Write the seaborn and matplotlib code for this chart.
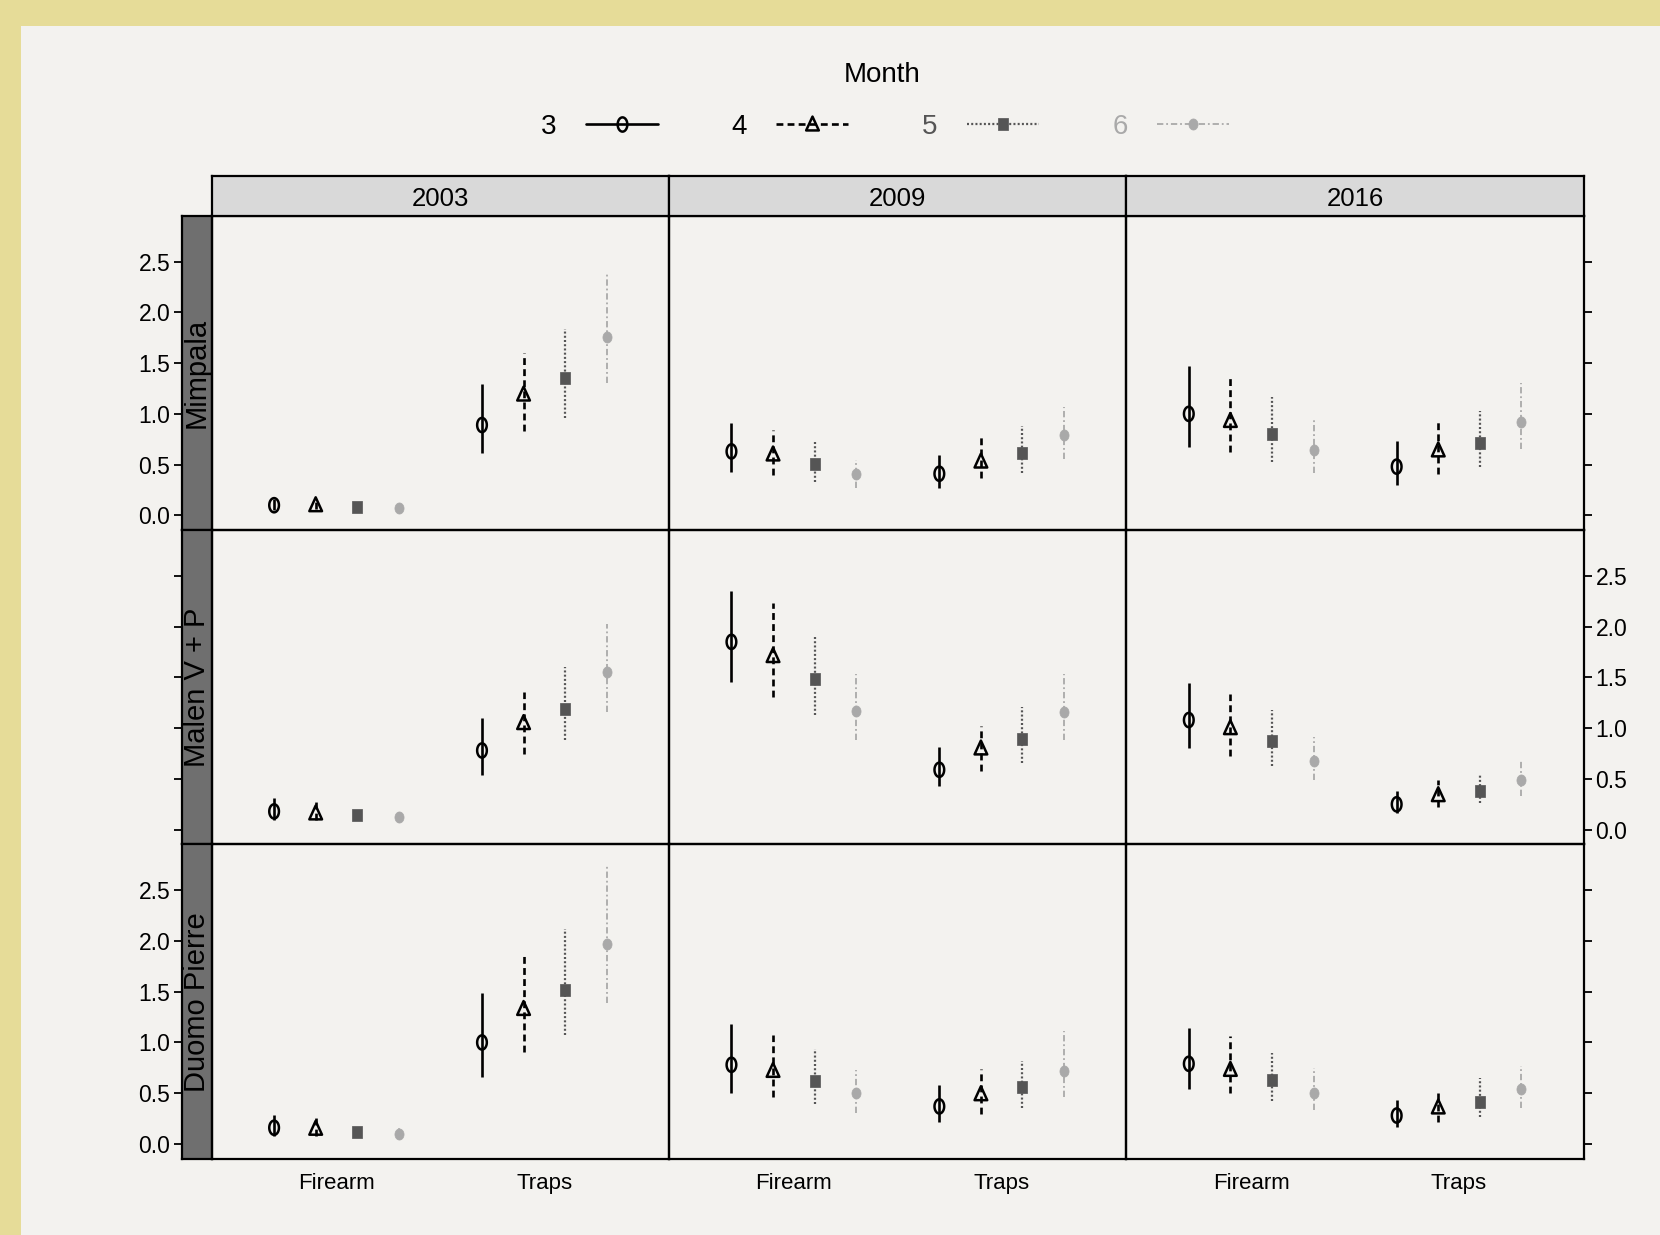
import numpy as np
import pandas as pd
import matplotlib
matplotlib.use("Agg")
import matplotlib.pyplot as plt
import seaborn as sns
from matplotlib.path import Path
from matplotlib.lines import Line2D
from matplotlib.patches import Rectangle

# ---------------- data ----------------
sites = ["Mimpala", "Malen V + P", "Duomo Pierre"]
years = ["2003", "2009", "2016"]
methods = ["Firearm", "Traps"]
months = ["3", "4", "5", "6"]
yticks = [0.0, 0.5, 1.0, 1.5, 2.0, 2.5]
ytick_labels = ["0.0", "0.5", "1.0", "1.5", "2.0", "2.5"]

# rows = years (2003, 2009, 2016); cols = Firearm m3..m6, Traps m3..m6
est_mimpala = [[0.10, 0.10, 0.08, 0.07, 0.89, 1.19, 1.35, 1.76],
               [0.63, 0.60, 0.51, 0.41, 0.41, 0.53, 0.61, 0.79],
               [1.00, 0.93, 0.80, 0.64, 0.48, 0.64, 0.71, 0.92]]
lo_mimpala = [[0.05, 0.06, 0.05, 0.04, 0.61, 0.83, 0.96, 1.30],
              [0.43, 0.40, 0.33, 0.27, 0.27, 0.37, 0.42, 0.56],
              [0.67, 0.62, 0.53, 0.42, 0.30, 0.41, 0.48, 0.65]]
hi_mimpala = [[0.16, 0.15, 0.12, 0.11, 1.29, 1.60, 1.84, 2.38],
              [0.91, 0.84, 0.72, 0.55, 0.59, 0.77, 0.88, 1.07],
              [1.47, 1.37, 1.17, 0.94, 0.73, 0.94, 1.03, 1.30]]

est_malen = [[0.18, 0.16, 0.14, 0.12, 0.78, 1.05, 1.19, 1.55],
             [1.85, 1.71, 1.48, 1.17, 0.59, 0.80, 0.89, 1.16],
             [1.08, 1.00, 0.87, 0.68, 0.25, 0.34, 0.38, 0.49]]
lo_malen = [[0.10, 0.10, 0.10, 0.07, 0.54, 0.75, 0.88, 1.16],
            [1.45, 1.31, 1.13, 0.88, 0.43, 0.58, 0.66, 0.88],
            [0.80, 0.73, 0.63, 0.49, 0.16, 0.22, 0.26, 0.33]]
hi_malen = [[0.31, 0.28, 0.19, 0.17, 1.10, 1.36, 1.60, 2.03],
            [2.35, 2.23, 1.92, 1.53, 0.81, 1.02, 1.21, 1.53],
            [1.44, 1.34, 1.18, 0.91, 0.38, 0.49, 0.55, 0.70]]

est_duomo = [[0.16, 0.15, 0.12, 0.10, 1.00, 1.33, 1.52, 1.97],
             [0.78, 0.72, 0.62, 0.50, 0.37, 0.49, 0.56, 0.72],
             [0.79, 0.73, 0.63, 0.50, 0.28, 0.36, 0.41, 0.54]]
lo_duomo = [[0.08, 0.08, 0.08, 0.06, 0.66, 0.91, 1.07, 1.39],
            [0.50, 0.46, 0.39, 0.31, 0.22, 0.30, 0.35, 0.46],
            [0.54, 0.50, 0.42, 0.33, 0.17, 0.22, 0.27, 0.35]]
hi_duomo = [[0.29, 0.27, 0.17, 0.16, 1.49, 1.87, 2.12, 2.74],
            [1.18, 1.07, 0.94, 0.73, 0.58, 0.74, 0.82, 1.11],
            [1.14, 1.06, 0.90, 0.75, 0.43, 0.50, 0.65, 0.77]]

est_all = [est_mimpala, est_malen, est_duomo]
lo_all = [lo_mimpala, lo_malen, lo_duomo]
hi_all = [hi_mimpala, hi_malen, hi_duomo]

# ---------------- long table ----------------
dodge = [-0.3, -0.1, 0.1, 0.3]
rows = []
for si, site in enumerate(sites):
    for yi, yr in enumerate(years):
        for mi, meth in enumerate(methods):
            for k, mo in enumerate(months):
                idx = mi * 4 + k
                rows.append(dict(site=site, year=yr, method=meth, month=mo,
                                 x=mi + dodge[k],
                                 est=est_all[si][yi][idx],
                                 lo=lo_all[si][yi][idx],
                                 hi=hi_all[si][yi][idx]))
df = pd.DataFrame(rows)

# ---------------- style ----------------
sns.set_theme(style="white")
plt.rcParams["font.family"] = ["Liberation Sans", "DejaVu Sans"]

PAPER = "#f3f2ef"
YELLOW = "#e6dc98"


def ellipse(r):
    t = np.linspace(0, 2 * np.pi, 61)
    return Path(np.column_stack([r * np.cos(t), np.sin(t)]), closed=True)


tri = Path([(-0.8, -0.75), (0.8, -0.75), (0.0, 1.0), (-0.8, -0.75)], closed=True)
sq = Path([(-0.82, -1), (0.82, -1), (0.82, 1), (-0.82, 1), (-0.82, -1)], closed=True)

mstyle = {
    "3": dict(marker=ellipse(0.68), s=105, fc="none", ec="black", mew=1.8,
              color="black", ls="-", lw=1.9),
    "4": dict(marker=tri, s=130, fc="none", ec="black", mew=1.8,
              color="black", ls=(0, (2.6, 1.6)), lw=1.9),
    "5": dict(marker=sq, s=64, fc="#555555", ec="#555555", mew=0.5,
              color="#555555", ls=(0, (0.9, 1.0)), lw=1.6),
    "6": dict(marker=ellipse(0.82), s=64, fc="#a9a9a9", ec="#a9a9a9", mew=0.5,
              color="#a9a9a9", ls=(0, (3.5, 1.6, 1.0, 1.6)), lw=1.3),
}
label_colors = {"3": "black", "4": "black", "5": "#555555", "6": "#a9a9a9"}

# ---------------- layout (fractions) ----------------
W, H = 1568.0, 1167.0
L0, R0 = 200 / W, 1496 / W
colw = (R0 - L0) / 3
T0, B0 = 1 - 204 / H, 1 - 1095 / H
rowh = (T0 - B0) / 3
striph = 38 / H
sx, sw = 172 / W, 28 / W
ylim = (-0.146, 2.95)
xlim = (-0.6, 1.6)

fig = plt.figure(figsize=(16.6, 12.35), dpi=100)
fig.patch.set_facecolor(PAPER)
fig.add_artist(Rectangle((0, 1 - 25 / H), 1, 25 / H, transform=fig.transFigure,
                         color=YELLOW, zorder=-5, lw=0))
fig.add_artist(Rectangle((0, 0), 20 / W, 1, transform=fig.transFigure,
                         color=YELLOW, zorder=-5, lw=0))

SP_LW = 1.6
TICK_FS = 16.5

for ri, site in enumerate(sites):
    y0 = T0 - (ri + 1) * rowh
    # left strip carrying the y-axis
    axs = fig.add_axes([sx, y0, sw, rowh])
    axs.set_facecolor("#6f6f6f")
    axs.set_ylim(*ylim)
    axs.set_xticks([])
    axs.set_yticks(yticks)
    axs.set_yticklabels(ytick_labels if ri != 1 else [""] * len(yticks))
    axs.tick_params(axis="y", direction="out", length=5.5, width=1.3,
                    labelsize=TICK_FS, pad=3, left=True, colors="black")
    for sp in axs.spines.values():
        sp.set_linewidth(SP_LW)
        sp.set_color("black")
    axs.text(0.5, 0.5, site, rotation=90, ha="center", va="center",
             fontsize=21, color="black", transform=axs.transAxes)

    for ci, yr in enumerate(years):
        x0 = L0 + ci * colw
        ax = fig.add_axes([x0, y0, colw, rowh])
        ax.set_facecolor("none")
        sub = df[(df.site == site) & (df.year == yr)]
        for mo in months:
            st = mstyle[mo]
            d = sub[sub.month == mo]
            for _, r in d.iterrows():
                ax.plot([r.x, r.x], [r.lo, r.hi], color=st["color"], ls=st["ls"],
                        lw=st["lw"], solid_capstyle="butt", zorder=2)
            sns.scatterplot(data=d, x="x", y="est", marker=st["marker"], s=st["s"],
                            facecolor=st["fc"], edgecolor=st["ec"],
                            linewidth=st["mew"], ax=ax, zorder=3, legend=False)
        ax.set_xlim(*xlim)
        ax.set_ylim(*ylim)
        ax.set_xlabel("")
        ax.set_ylabel("")
        for sp in ax.spines.values():
            sp.set_linewidth(SP_LW)
            sp.set_color("black")
        if ri == 2:
            ax.set_xticks([0, 1])
            ax.set_xticklabels(methods)
            ax.tick_params(axis="x", length=0, labelsize=16, pad=10, colors="black")
        else:
            ax.set_xticks([])
        if ci == 2:
            ax.yaxis.tick_right()
            ax.set_yticks(yticks)
            ax.set_yticklabels(ytick_labels if ri == 1 else [""] * len(yticks))
            ax.tick_params(axis="y", direction="out", length=5.5, width=1.3,
                           labelsize=TICK_FS, pad=3, right=True, left=False,
                           colors="black")
        else:
            ax.set_yticks([])

        if ri == 0:
            axt = fig.add_axes([x0, T0, colw, striph])
            axt.set_facecolor("#d9d9d9")
            axt.set_xticks([])
            axt.set_yticks([])
            for sp in axt.spines.values():
                sp.set_linewidth(SP_LW)
                sp.set_color("black")
            axt.text(0.5, 0.43, yr, ha="center", va="center", fontsize=18.5,
                     color="black", transform=axt.transAxes)

# ---------------- legend ----------------
handles = []
for mo in months:
    st = mstyle[mo]
    handles.append(Line2D([], [], color=st["color"], ls=st["ls"], lw=st["lw"],
                          marker=st["marker"], markersize=np.sqrt(st["s"]),
                          markerfacecolor=st["fc"], markeredgecolor=st["ec"],
                          markeredgewidth=st["mew"]))
leg = fig.legend(handles, months, loc="center", bbox_to_anchor=(836 / W, 1 - 120 / H),
                 ncol=4, frameon=False, markerfirst=False, handlelength=2.6,
                 handletextpad=1.05, columnspacing=2.65, fontsize=20)
for t, mo in zip(leg.get_texts(), months):
    t.set_color(label_colors[mo])
fig.text(833 / W, 1 - 71 / H, "Month", ha="center", va="center", fontsize=20,
         color="black")

fig.savefig("out.png", dpi=100, facecolor=PAPER)
